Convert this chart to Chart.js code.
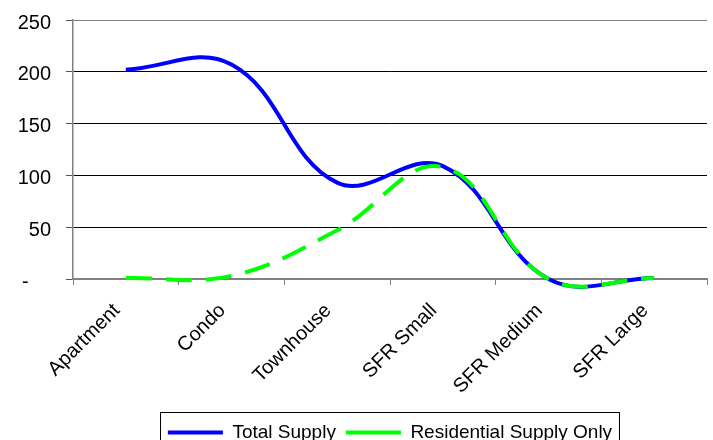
<!DOCTYPE html>
<html>
<head>
<meta charset="utf-8">
<script src="https://cdn.jsdelivr.net/npm/chart.js@4/dist/chart.umd.min.js"></script>
<style>
  html, body { margin: 0; padding: 0; background: #fff; overflow: hidden; }
  canvas { display: block; }
</style>
</head>
<body>
<canvas id="chart" width="713" height="440"></canvas>
<script>
// Supply by housing type
const categories = ['Apartment', 'Condo', 'Townhouse', 'SFR Small', 'SFR Medium', 'SFR Large'];
const totalSupply = [202, 207, 93, 109, 0, 1];
const residentialSupply = [1, 3, 47, 108, 0, 1];
const yTickValues = [0, 50, 100, 150, 200, 250];

const FONT = '"Liberation Sans", Arial, sans-serif';
Chart.defaults.font.family = FONT;
Chart.defaults.color = '#000';

// Nudges the legend down and frames it with a thin box
const legendFrame = {
  id: 'legendFrame',
  afterLayout(chart) {
    const lg = chart.legend;
    lg.top += 12;
    lg.bottom += 12;
  },
  afterDraw(chart) {
    const boxes = chart.legend.legendHitBoxes;
    if (!boxes || !boxes.length) return;
    const first = boxes[0], last = boxes[boxes.length - 1];
    const left = Math.round(first.left - 8) + 0.5;
    const right = Math.round(last.left + last.width + 7) + 0.5;
    const top = Math.round(first.top - 11) + 0.5;
    const ctx = chart.ctx;
    ctx.save();
    ctx.strokeStyle = '#000';
    ctx.lineWidth = 1;
    ctx.strokeRect(left, top, right - left, 60);
    ctx.restore();
  }
};

new Chart(document.getElementById('chart'), {
  type: 'line',
  data: {
    labels: categories,
    datasets: [
      {
        label: 'Total Supply',
        data: totalSupply,
        borderColor: '#0000ff',
        backgroundColor: '#0000ff',
        borderWidth: 4,
        pointRadius: 0,
        pointHoverRadius: 0,
        tension: 0.4,
        fill: false,
        clip: false,
        order: 1
      },
      {
        label: 'Residential Supply Only',
        data: residentialSupply,
        borderColor: '#00ff00',
        backgroundColor: '#00ff00',
        borderWidth: 4,
        borderDash: [26, 14],
        pointRadius: 0,
        pointHoverRadius: 0,
        tension: 0.4,
        fill: false,
        clip: false,
        order: 0
      }
    ]
  },
  options: {
    responsive: false,
    animation: false,
    layout: { padding: { top: 20, right: 6, left: 0, bottom: 0 } },
    elements: { line: { capBezierPoints: false, borderCapStyle: 'butt' } },
    plugins: {
      tooltip: { enabled: false },
      legend: {
        position: 'bottom',
        fullSize: false,
        labels: {
          usePointStyle: true,
          pointStyle: 'line',
          pointStyleWidth: 55,
          padding: 10,
          color: '#000',
          font: { family: FONT, size: 19 },
          sort: (a, b) => a.datasetIndex - b.datasetIndex
        }
      }
    },
    scales: {
      x: {
        offset: true,
        grid: {
          offset: true,
          drawOnChartArea: true,
          color: (c) => c.index === categories.length ? '#808080' : 'rgba(0,0,0,0)',
          tickColor: '#808080',
          tickLength: 6,
          lineWidth: 1
        },
        border: { color: '#808080', width: 2 },
        ticks: {
          autoSkip: false,
          minRotation: 45,
          maxRotation: 45,
          padding: 14,
          labelOffset: -9,
          color: '#000',
          font: { family: FONT, size: 20 }
        },
        afterFit: (s) => { s.height = 122; }
      },
      y: {
        min: 0,
        max: 250,
        afterBuildTicks: (s) => { s.ticks = yTickValues.map(v => ({ value: v })); },
        ticks: {
          // accounting-style zero: a dash padded in from the right
          callback: (v) => v === 0 ? '-    ' : v,
          color: '#000',
          padding: 15,
          labelOffset: 3,
          font: { family: FONT, size: 20 }
        },
        grid: {
          color: (c) => (c.tick && c.tick.value === 250) ? '#808080' : '#000',
          tickColor: '#555',
          tickLength: 7,
          lineWidth: 1
        },
        border: { color: '#808080', width: 1.5 },
        afterFit: (s) => {
          s.width = 73;
          s.paddingTop = 0;
          s.paddingBottom = 0;
        }
      }
    }
  },
  plugins: [legendFrame]
});
</script>
</body>
</html>
